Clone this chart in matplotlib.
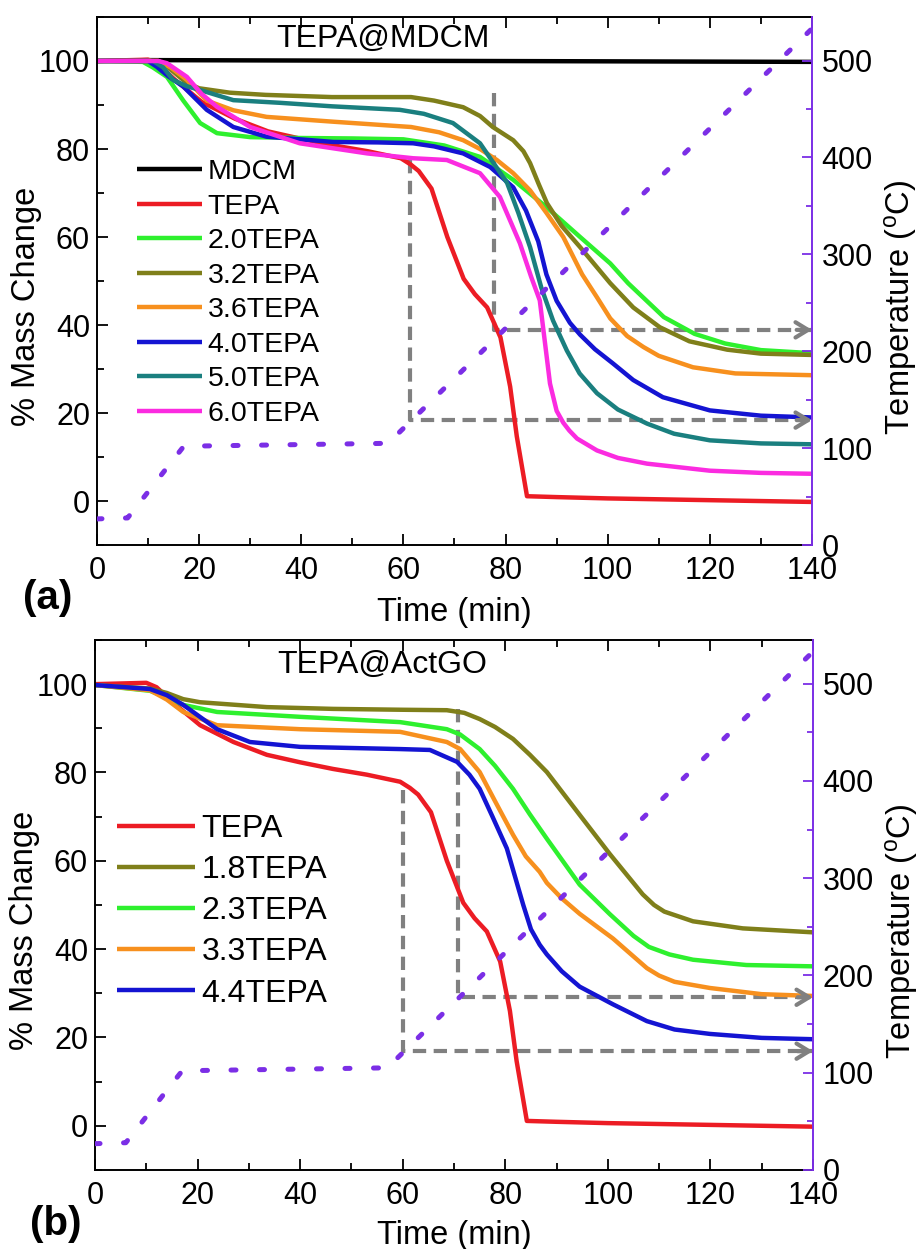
import matplotlib
matplotlib.use("Agg")
import matplotlib.pyplot as plt
from matplotlib.ticker import MultipleLocator

plt.rcParams["font.family"] = ["Liberation Sans", "DejaVu Sans"]
plt.rcParams["mathtext.fontset"] = "custom"
plt.rcParams["mathtext.rm"] = "Liberation Sans"

# ---- temperature programme (right axis, same for both panels) ----
temp_time = [0, 6, 17, 57, 140]
temp_degc = [27, 28, 102, 105, 533]

# ---- shared TEPA curve ----
tepa_time = [0, 10, 12, 15, 20.5, 27, 33.5, 40, 46.4, 53, 59.5, 61.4, 63, 65.5, 68.6,
             71.8, 74, 76.4, 79, 80.9, 82.2, 84.2, 90, 100, 120, 140]
tepa_mass = [100, 100.3, 99.3, 96, 90.7, 86.9, 84, 82.3, 80.8, 79.5, 77.9, 76.5, 75, 71, 60,
             50.5, 47, 44, 37.2, 26, 14.7, 1.1, 0.9, 0.6, 0.2, -0.2]

# ---- panel (a): TEPA@MDCM ----
mdcm_time = [0, 10, 140]
mdcm_mass = [100, 100.2, 99.8]

a20_time = [0, 9, 11, 13.7, 16.9, 20.2, 23.5, 30, 40, 50, 60, 68, 75, 81.5, 88, 94.6,
            100.5, 104, 111, 117, 123, 130, 140]
a20_mass = [100, 99.8, 98.5, 96.4, 91, 85.9, 83.6, 82.7, 82.5, 82.4, 82.2, 80.8, 78.2, 73,
            66.8, 60, 54, 49.5, 41.8, 38, 35.8, 34.3, 33.6]

a32_time = [0, 12, 14, 17.6, 20, 26, 33, 46, 61.5, 66, 71.7, 75, 77.5, 79.5, 81.5, 83.5,
            84.8, 86.5, 88.1, 91, 94.6, 100.5, 105, 110.2, 116, 123.4, 130, 140]
a32_mass = [100, 100, 98.5, 95, 93.8, 92.8, 92.3, 91.8, 91.8, 91, 89.5, 87.5, 85, 83.5, 82,
            79.5, 76.8, 72, 67.7, 62.5, 57.7, 49.5, 44, 39.5, 36.3, 34.4, 33.5, 33.2]

a36_time = [0, 12, 14.5, 17.6, 21.5, 26.7, 33.2, 46.3, 61.5, 67, 71.7, 75, 78.3, 81.5, 84.8,
            88, 91.3, 95, 97.9, 100.5, 103.8, 107, 110, 116.7, 125, 140]
a36_mass = [100, 100, 98.5, 95.7, 91, 88.8, 87.3, 86.2, 85, 83.8, 82, 80, 77.5, 74.5, 70.6,
            65.5, 60, 51.5, 46.3, 41.5, 37.5, 35, 33, 30.4, 29, 28.6]

a40_time = [0, 10, 11.7, 14, 16.9, 21.5, 26.7, 33.2, 46.3, 55, 61.9, 66, 71.7, 77, 81.5, 84,
            86.4, 88, 90, 92.6, 94.6, 97.5, 101, 105, 110.8, 120, 130, 140]
a40_mass = [100, 100, 98.7, 96.5, 94.2, 88.9, 85, 82.8, 81.6, 81.5, 81.3, 80.6, 79, 75.9,
            71.3, 66, 59, 51.5, 45.5, 40.5, 37.8, 34.5, 31.3, 27.5, 23.6, 20.6, 19.4, 19]

a50_time = [0, 11, 13, 14.9, 17.5, 20.2, 26.7, 35.8, 46, 59.3, 64, 69.7, 75, 80.3, 82.5, 84.8,
            87, 89.3, 92, 94.5, 97.9, 102, 107.7, 113, 120, 130, 140]
a50_mass = [100, 100, 98.5, 95.7, 94.3, 93.4, 91.1, 90.5, 89.7, 88.9, 88, 85.9, 81.3, 72.3,
            65.5, 57.7, 48.5, 41, 34.2, 29, 24.5, 20.8, 17.6, 15.3, 13.8, 13.1, 12.9]

a60_time = [0, 12, 13.7, 17.6, 20.5, 23.5, 30, 39.7, 52.9, 61.9, 68.5, 75, 78.9, 82.8, 85,
            86.7, 88.7, 90, 91.3, 92.5, 94, 97.9, 102, 107.7, 120, 130, 140]
a60_mass = [100, 100, 99.5, 96.4, 92.5, 89.6, 85, 81.3, 79, 77.9, 77.5, 74.5, 69.1, 58.6, 51,
            45.6, 26.7, 20.5, 17.8, 16, 14.2, 11.5, 9.8, 8.5, 6.9, 6.4, 6.2]

# ---- panel (b): TEPA@ActGO ----
b18_time = [0, 10.7, 14, 17.2, 20.5, 33.5, 46.4, 60, 68.6, 72, 75, 78, 81.5, 84.8, 88.1,
            94.5, 100.4, 106.8, 109, 111, 116.6, 126.3, 140]
b18_mass = [99.8, 99, 98, 96.6, 95.9, 94.8, 94.4, 94.2, 94.1, 93.5, 92.1, 90.3, 87.6, 84,
            80.1, 70.4, 61.5, 52.4, 50, 48.5, 46.3, 44.7, 43.8]

b23_time = [0, 10.7, 14, 17.2, 23.8, 40, 59.5, 68.6, 71.2, 75, 78, 81.5, 84.8, 88.1, 94.5,
            100.4, 105, 108, 112, 116.6, 127, 140]
b23_mass = [99.8, 98.5, 97, 95.3, 93.7, 92.6, 91.4, 89.8, 88.6, 85.3, 81.5, 76.3, 70.5, 65,
            54.6, 47.9, 43, 40.5, 38.8, 37.6, 36.4, 36.1]

b33_time = [0, 10.7, 14, 17.2, 23.8, 40, 59.5, 68.6, 71.2, 75, 78, 81.5, 84, 86.7, 88.1,
            91, 94.5, 101, 107.6, 110, 113, 119.9, 130, 140]
b33_mass = [99.8, 98.6, 96.5, 93.7, 90.7, 89.8, 89.2, 86.9, 85.3, 80.1, 73.5, 65.9, 61,
            57.5, 55, 51.5, 48, 42.4, 35.7, 34, 32.6, 31.2, 29.8, 29.4]

b44_time = [0, 10.7, 14, 17.2, 23.8, 30.2, 40, 59.5, 65.3, 70.6, 73, 75, 77.5, 80.3, 82,
            83.5, 85, 86.7, 88.1, 91, 94.5, 101, 107.6, 113, 119.9, 130, 140]
b44_mass = [99.8, 98.9, 97.5, 95.3, 89.8, 86.9, 85.8, 85.3, 85.1, 82.4, 79.5, 76.3, 70, 62.8,
            56, 50, 44.5, 41, 38.8, 35, 31.5, 27.5, 23.7, 21.8, 20.8, 19.9, 19.6]

# guide lines: (time of drop, mass where it starts, mass where it ends)
a_guides = [(61.3, 77.5, 18.4), (77.7, 92.7, 38.9)]
b_guides = [(60.0, 76.0, 16.9), (70.8, 94.4, 29.1)]

RED = "#ec1c24"
LIME = "#2ef02e"
OLIVE = "#7f7f1a"
ORANGE = "#f7901e"
BLUE = "#1414d2"
TEAL = "#1a7f7f"
MAGENTA = "#fb2be0"
PURPLE = "#7b2ee6"
GREY = "#808080"

panel_a = [
    ("MDCM", mdcm_time, mdcm_mass, "black"),
    ("TEPA", tepa_time, tepa_mass, RED),
    ("2.0TEPA", a20_time, a20_mass, LIME),
    ("3.2TEPA", a32_time, a32_mass, OLIVE),
    ("3.6TEPA", a36_time, a36_mass, ORANGE),
    ("4.0TEPA", a40_time, a40_mass, BLUE),
    ("5.0TEPA", a50_time, a50_mass, TEAL),
    ("6.0TEPA", a60_time, a60_mass, MAGENTA),
]
panel_b = [
    ("TEPA", tepa_time, tepa_mass, RED),
    ("1.8TEPA", b18_time, b18_mass, OLIVE),
    ("2.3TEPA", b23_time, b23_mass, LIME),
    ("3.3TEPA", b33_time, b33_mass, ORANGE),
    ("4.4TEPA", b44_time, b44_mass, BLUE),
]


def draw_panel(rect, series, guides, title, title_xy, legend_kw, xlabel_y):
    ax = fig.add_axes(rect)
    handles = []
    for label, t, m, color in series:
        (ln,) = ax.plot(t, m, color=color, lw=3.2, label=label, solid_capstyle="butt",
                        solid_joinstyle="round")
        handles.append(ln)

    for t0, top, bottom in guides:
        ax.plot([t0, t0, 140], [top, bottom, bottom], color=GREY, lw=3.0,
                dashes=(3.2, 1.8), zorder=1)
        ax.annotate("", xy=(140, bottom), xytext=(137, bottom), annotation_clip=False,
                    arrowprops=dict(arrowstyle="->,head_length=0.9,head_width=0.55",
                                    color=GREY, lw=3.0, shrinkA=0, shrinkB=0))

    ax.set_xlim(0, 140)
    ax.set_ylim(-10, 110)
    ax.xaxis.set_major_locator(MultipleLocator(20))
    ax.xaxis.set_minor_locator(MultipleLocator(10))
    ax.yaxis.set_major_locator(MultipleLocator(20))
    ax.yaxis.set_minor_locator(MultipleLocator(10))
    ax.tick_params(which="both", direction="in", top=True, right=False, width=1.3,
                   labelsize=22)
    ax.tick_params(which="major", length=8)
    ax.tick_params(which="minor", length=5)
    ax.tick_params(axis="x", pad=8)
    ax.tick_params(axis="y", pad=5)
    for side in ["left", "top", "bottom"]:
        ax.spines[side].set_linewidth(1.4)
    ax.spines["right"].set_visible(False)

    ax.set_xlabel("Time (min)", fontsize=23.5)
    ax.xaxis.set_label_coords(0.5, xlabel_y)
    ax.set_ylabel("% Mass Change", fontsize=23.5)
    ax.yaxis.set_label_coords(-0.077, 0.452)
    ax.text(title_xy[0], title_xy[1], title, fontsize=23, ha="center", va="center")

    ax.legend(handles=handles, loc="upper left", frameon=False, borderpad=0,
              borderaxespad=0, **legend_kw)

    ax2 = ax.twinx()
    ax2.plot(temp_time, temp_degc, color=PURPLE, lw=3.6, dashes=(1.0, 4.7),
             dash_capstyle="round")
    ax2.set_ylim(0, 545)
    ax2.yaxis.set_major_locator(MultipleLocator(100))
    ax2.yaxis.set_minor_locator(MultipleLocator(50))
    ax2.tick_params(which="both", direction="in", color=PURPLE, width=1.3,
                    labelsize=22, pad=7)
    ax2.tick_params(which="major", length=7)
    ax2.tick_params(which="minor", length=4)
    ax2.spines["right"].set_color(PURPLE)
    ax2.spines["right"].set_linewidth(1.4)
    for side in ["left", "top", "bottom"]:
        ax2.spines[side].set_visible(False)
    ax2.set_ylabel(r"Temperature ($\mathregular{^o}$C)", fontsize=23.5)
    ax2.yaxis.set_label_coords(1.098, 0.45)
    return ax, ax2


fig = plt.figure(figsize=(9.2, 12.49), dpi=100)

draw_panel([0.1054, 0.5636, 0.7772, 0.4228], panel_a, a_guides, "TEPA@MDCM", (56, 105),
           dict(fontsize=20.5, handlelength=2.28, handletextpad=0.2, labelspacing=0.3,
                bbox_to_anchor=(0.056, 0.731)),
           -0.0985)
draw_panel([0.1033, 0.0633, 0.7804, 0.4243], panel_b, b_guides, "TEPA@ActGO", (56, 104.4),
           dict(fontsize=23, handlelength=2.44, handletextpad=0.2, labelspacing=0.35,
                bbox_to_anchor=(0.031, 0.672)),
           -0.094)

fig.text(0.025, 0.521, "(a)", fontsize=29, fontweight="bold", va="center", ha="left")
fig.text(0.033, 0.020, "(b)", fontsize=29, fontweight="bold", va="center", ha="left")

fig.savefig("out.png", dpi=100)
plt.close(fig)
